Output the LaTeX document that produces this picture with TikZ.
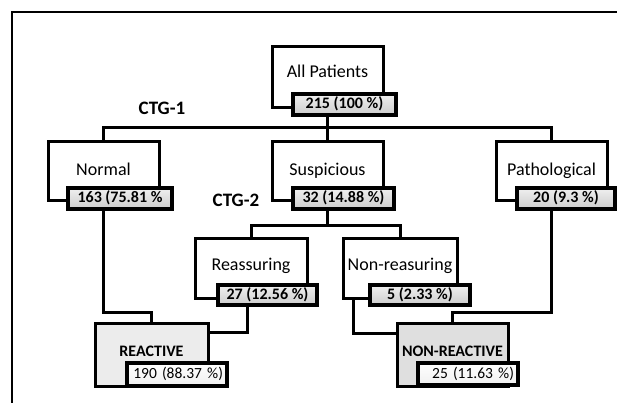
\documentclass[tikz,border=0pt]{standalone}
\usepackage{fontspec}
\setmainfont{Carlito}
\begin{document}
\begin{tikzpicture}[x=1pt,y=-1pt,
  box/.style={draw=black, line width=3pt, fill=white, inner sep=0pt, font=\fontsize{18}{20}\selectfont, text height=13pt},
  lab/.style={draw=black, line width=3.3pt, top color=gray!12, bottom color=gray!40, inner sep=0pt, minimum height=21pt, font=\bfseries\fontsize{16}{18}\selectfont, text height=11pt, text depth=3pt},
  res/.style={box, font=\bfseries\fontsize{16}{18}\selectfont},
  reslab/.style={lab, top color=white, bottom color=gray!12, font=\fontsize{15.5}{17}\selectfont, text width=92pt, align=right, inner xsep=4pt},
  conn/.style={line width=3pt},
  ctg/.style={font=\bfseries\fontsize{19}{21}\selectfont, inner sep=0pt}
]
\useasboundingbox (0,0) rectangle (617,403);
\fill[white] (0,0) rectangle (617,403);
\draw[line width=2pt] (12,403) -- (12,12) -- (617,12);

% boxes
\node[box, minimum width=111pt, minimum height=61pt, text depth=12.4pt] (allp) at (327.5,77.5) {All Patients};
\node[box, minimum width=111pt, minimum height=58pt, text depth=3.4pt] (normal) at (103.5,171) {Normal};
\node[box, minimum width=111pt, minimum height=58pt, text depth=3.4pt] (susp) at (327.5,171) {Suspicious};
\node[box, minimum width=111pt, minimum height=58pt, text depth=3.4pt] (path) at (551.5,171) {Pathological};
\node[box, minimum width=112pt, minimum height=60pt, text depth=7.4pt] (reas) at (251,268) {Reassuring};
\node[box, minimum width=114pt, minimum height=60pt, text depth=7.4pt] (nonr) at (400,268) {Non-reasuring};
\node[res, fill=gray!15, minimum width=113pt, minimum height=63pt, text depth=9.7pt] (react) at (151.5,354.5) {REACTIVE};
\node[res, fill=gray!25, minimum width=111pt, minimum height=63pt, text depth=9.7pt] (nonreact) at (452.5,354.5) {NON-REACTIVE};

% labels
\node[lab, minimum width=103pt] (lall) at (344.5,104.5) {215 (100 \%)};
\node[lab, minimum width=104pt] (lnorm) at (120,198.5) {163 (75.81 \%};
\node[lab, minimum width=101pt] (lsusp) at (343.5,198.5) {32 (14.88 \%)};
\node[lab, minimum width=98pt] (lpath) at (566,198.5) {20 (9.3 \%)};
\node[lab, minimum width=99pt, minimum height=20pt] (lreas) at (267.5,295) {27 (12.56 \%)};
\node[lab, minimum width=100pt, minimum height=20pt] (lnonr) at (420,295) {5 (2.33 \%)};
\node[reslab, minimum height=23pt] (lreact) at (177,374.5) {190 (88.37 \%)};
\node[reslab, minimum height=22pt] (lnonreact) at (468,374) {25 (11.63 \%)};

% CTG texts
\node[ctg] (ctg1) at (162,108) {CTG-1};
\node[ctg] (ctg2) at (236,200) {CTG-2};

% connectors
\coordinate (j1) at (327.5,128);
\coordinate (j2) at (327.5,225);
\coordinate (r4) at (247,332);
\coordinate (r5) at (353,333);
\draw[conn] (susp.north |- lall.south) -- (susp.north);
\draw[conn] (normal.north) -- (normal.north |- j1) -- (path.north |- j1) -- (path.north);
\draw[conn] (susp.south |- lsusp.south) -- (j2);
\draw[conn] (reas.north) -- (reas.north |- j2) -- (nonr.north |- j2) -- (nonr.north);
\draw[conn] (normal.south |- lnorm.south) -- ++(0,101.5) -| (react.north);
\draw[conn] (r4 |- lreas.south) -- (r4) -- (r4 -| react.east);
\draw[conn] (r5 |- nonr.south) -- (r5) -- (r5 -| nonreact.west);
\draw[conn] (path.south |- lpath.south) -- ++(0,101.5) -| (nonreact.north);
\end{tikzpicture}
\end{document}
